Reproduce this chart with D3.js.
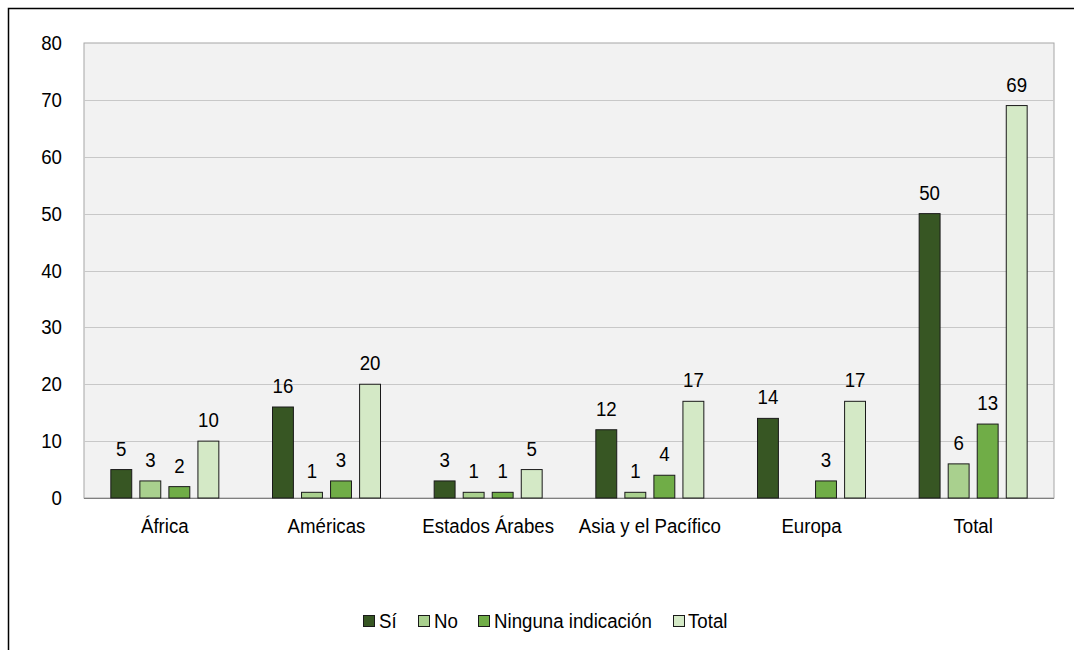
<!DOCTYPE html>
<html><head><meta charset="utf-8">
<script src="https://cdn.jsdelivr.net/npm/d3@7"></script>
<style>
html,body{margin:0;padding:0;background:#fff;}
svg{display:block;font-family:"Liberation Sans Narrow","Arial Narrow","Liberation Sans",Arial,sans-serif;}
</style></head>
<body><svg id="c" width="1074" height="650"></svg>
<script>
const categories = ["África","Américas","Estados Árabes","Asia y el Pacífico","Europa","Total"];
const seriesNames = ["Sí","No","Ninguna indicación","Total"];
const si = [5,16,3,12,14,50];
const no = [3,1,1,1,0,6];
const ninguna = [2,3,1,4,3,13];
const total = [10,20,5,17,17,69];
const yTicks = [0,10,20,30,40,50,60,70,80];
const colors = ["#375623","#a9d08e","#70ad47","#d4e9c6"];

const series = [si,no,ninguna,total];
const svg = d3.select("#c");
const L=84, R=1054, T=43, B=498;
const FS = 21, SX = 0.89;

function label(sel, x, y, str, anchor){
  return sel.append("text")
    .attr("transform",`translate(${x},${y}) scale(${SX},1)`)
    .attr("text-anchor",anchor||"middle")
    .attr("font-size",FS).attr("fill","#000").text(str);
}

svg.append("rect").attr("x",8.5).attr("y",8.5).attr("width",1100).attr("height",700)
  .attr("fill","#fff").attr("stroke","#000").attr("stroke-width",1.5);

const x = d3.scaleBand().domain(categories).range([L,R]);
const y = d3.scaleLinear().domain([0,80]).range([B,T]);
const xs = d3.scaleBand().domain(d3.range(4)).range([0,108]).paddingInner(0.28);

svg.append("rect").attr("x",L).attr("y",T).attr("width",R-L).attr("height",B-T)
  .attr("fill","#f2f2f2").attr("stroke","#a6a6a6").attr("stroke-width",1);

svg.append("g").selectAll("line").data(yTicks.slice(1,-1)).join("line")
  .attr("x1",L).attr("x2",R).attr("y1",d=>Math.round(y(d))+0.5).attr("y2",d=>Math.round(y(d))+0.5)
  .attr("stroke","#c8c8c8").attr("stroke-width",1);

// y axis labels
const ya = svg.append("g");
yTicks.forEach(t=>label(ya, 62, y(t)+7, t, "end"));

// x axis line
svg.append("line").attr("x1",L).attr("x2",R).attr("y1",B+0.5).attr("y2",B+0.5).attr("stroke","#808080");
const xa = svg.append("g");
categories.forEach(c=>label(xa, x(c)+x.bandwidth()/2, 533, c, "middle"));

const data = [];
categories.forEach((c,i)=>series.forEach((s,j)=>data.push({c,j,v:s[i]})));
const groupOff = (x.bandwidth()-108)/2;

const g = svg.append("g");
g.selectAll("rect").data(data.filter(d=>d.v>0)).join("rect")
  .attr("x",d=>x(d.c)+groupOff+xs(d.j)).attr("width",xs.bandwidth())
  .attr("y",d=>y(d.v)).attr("height",d=>y(0)-y(d.v))
  .attr("fill",d=>colors[d.j]).attr("stroke","#1a1a1a").attr("stroke-width",1);

const lbl = svg.append("g");
data.filter(d=>d.v>0).forEach(d=>{
  label(lbl, x(d.c)+groupOff+xs(d.j)+xs.bandwidth()/2, y(d.v)-14, d.v, "middle");
});

// legend
const items = [{x:363,tx:379,n:0},{x:418,tx:434,n:1},{x:478,tx:494,n:2},{x:673,tx:688,n:3}];
const lg = svg.append("g");
items.forEach(it=>{
  lg.append("rect").attr("x",it.x+0.5).attr("y",615.5).attr("width",11).attr("height",11)
    .attr("fill",colors[it.n]).attr("stroke","#1a1a1a").attr("stroke-width",1);
  label(lg, it.tx, 628, seriesNames[it.n], "start");
});
</script></body></html>
